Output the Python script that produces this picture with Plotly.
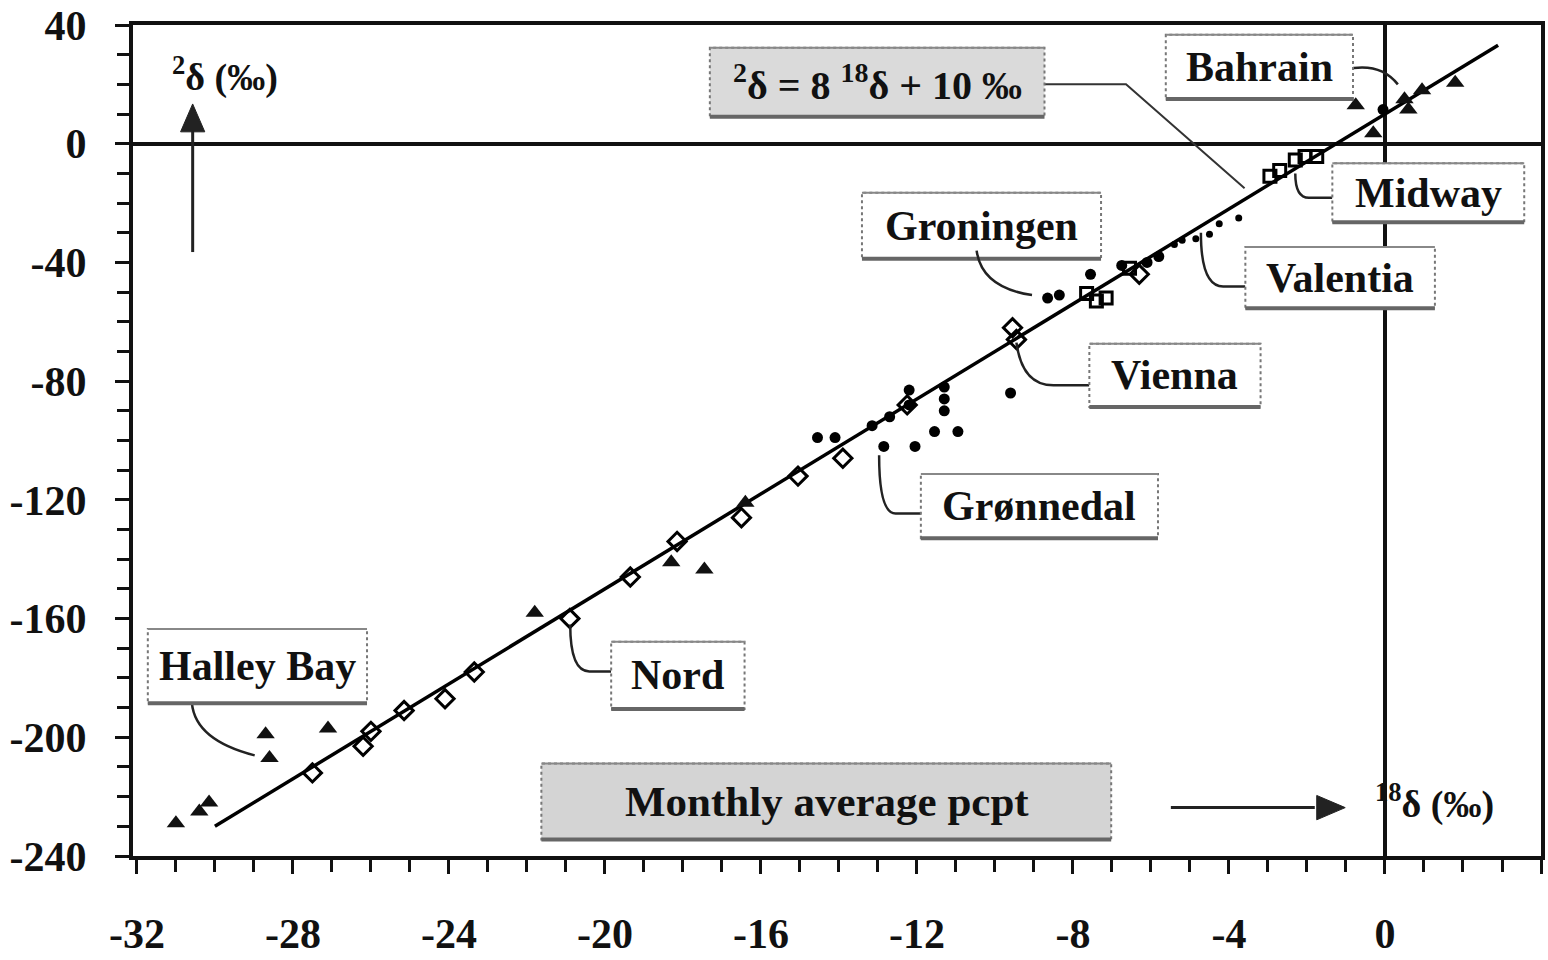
import plotly.graph_objects as go

# ---------------- data ----------------
# Global meteoric water line  2δ = 8 18δ + 10
gmwl_x = [-30.0, 2.9]
gmwl_y = [-230.0, 33.2]

# Halley Bay + other filled triangles
tri_x = [-31.0, -30.4, -30.15, -28.7, -28.6, -27.1, -21.8, -18.3, -17.45, -16.4]
tri_y = [-229, -225, -222, -199, -207, -197, -158, -141, -143.5, -121]

# Bahrain triangles
bahrain_x = [-0.75, -0.3, 0.6, 0.5, 0.95, 1.8]
bahrain_y = [13.0, 3.5, 11.5, 15.0, 18.0, 20.5]

# Nord / Vienna open diamonds
nord_x = [-27.5, -26.2, -26.0, -25.15, -24.1, -23.35, -20.9, -19.35, -18.15, -16.5, -15.05, -13.9]
nord_y = [-212, -203, -198, -191, -187, -178, -160, -146, -134, -126, -112, -106]
vienna_x = [-9.45, -9.55, -12.25, -6.3]
vienna_y = [-66, -62, -88, -44]

# Grønnedal filled dots
gron_x = [-14.55, -14.1, -13.15, -12.85, -12.7, -12.2, -12.2, -12.05, -11.55, -11.3, -11.3, -11.3, -10.95, -9.6]
gron_y = [-99, -99, -95, -102, -92, -83, -88, -102, -97, -82, -86, -90, -97, -84]

# Groningen filled dots and open squares
groningen_x = [-8.65, -8.35, -7.55, -6.75, -6.1, -5.8]
groningen_y = [-52, -51, -44, -41, -40, -38]
groningen_sq_x = [-7.65, -7.4, -7.15, -6.55]
groningen_sq_y = [-50.5, -53, -52, -42]

# Valentia small dots
valentia_x = [-5.4, -5.2, -4.85, -4.5, -4.25, -3.75]
valentia_y = [-34, -32.5, -32, -30.5, -27, -25]

# Midway open squares
midway_x = [-2.95, -2.7, -2.3, -2.05, -1.75]
midway_y = [-11, -9, -5.5, -4.3, -4.3]

# near-zero point
zero_x = [-0.05]
zero_y = [11.5]

x_tick_vals = [-32, -28, -24, -20, -16, -12, -8, -4, 0, 4]
x_tick_text = ["-32", "-28", "-24", "-20", "-16", "-12", "-8", "-4", "0", "4"]
y_tick_vals = [-240, -200, -160, -120, -80, -40, 0, 40]
y_tick_text = ["-240", "-200", "-160", "-120", "-80", "-40", "0", "40"]

# station labels: text, box x0, x1, y0, y1
label_names = ["Bahrain", "Midway", "Groningen", "Valentia", "Vienna", "Grønnedal", "Nord", "Halley Bay"]
label_boxes = [
    (-5.62, -0.82, 15.1, 36.7),
    (-1.35, 3.57, -26.5, -6.6),
    (-13.41, -7.28, -38.8, -16.5),
    (-3.58, 1.28, -55.4, -34.8),
    (-7.58, -3.19, -88.7, -67.4),
    (-11.90, -5.82, -132.9, -111.3),
    (-19.84, -16.42, -190.5, -167.8),
    (-31.72, -26.10, -188.5, -163.5),
]
# connector paths (data coordinates)
connectors = [
    "M -1.02 25 Q -0.13 27.7 0.33 20",
    "M -1.35 -18.2 L -1.95 -18.2 Q -2.3 -18.2 -2.3 -10",
    "M -3.58 -48.1 L -4.15 -48.1 Q -4.72 -48.1 -4.72 -30",
    "M -10.47 -36 Q -10.34 -48.5 -9.05 -51",
    "M -7.58 -81.4 L -8.5 -81.4 Q -9.3 -81.4 -9.45 -67",
    "M -11.90 -124.6 L -12.55 -124.6 Q -12.97 -124.6 -12.97 -105",
    "M -19.84 -177.8 L -20.4 -177.8 Q -20.89 -177.8 -20.89 -162",
    "M -30.59 -188.5 Q -30.5 -201 -28.98 -206.1",
]

FONT = "Liberation Serif, Times New Roman, DejaVu Serif, serif"

fig = go.Figure()

fig.add_trace(go.Scatter(x=gmwl_x, y=gmwl_y, mode="lines",
                         line=dict(color="black", width=3.5), showlegend=False))

mk_line = dict(color="black", width=3)
fig.add_trace(go.Scatter(x=nord_x + vienna_x, y=nord_y + vienna_y, mode="markers",
                         marker=dict(symbol="diamond-open", size=14, color="black", line=mk_line),
                         showlegend=False))
fig.add_trace(go.Scatter(x=tri_x + bahrain_x, y=tri_y + bahrain_y, mode="markers",
                         marker=dict(symbol="triangle-up", size=16, color="#111"),
                         showlegend=False))
fig.add_trace(go.Scatter(x=gron_x + groningen_x + zero_x, y=gron_y + groningen_y + zero_y, mode="markers",
                         marker=dict(symbol="circle", size=11, color="black"),
                         showlegend=False))
fig.add_trace(go.Scatter(x=groningen_sq_x + midway_x, y=groningen_sq_y + midway_y, mode="markers",
                         marker=dict(symbol="square-open", size=12, color="black", line=mk_line),
                         showlegend=False))
fig.add_trace(go.Scatter(x=valentia_x, y=valentia_y, mode="markers",
                         marker=dict(symbol="circle", size=7, color="black"),
                         showlegend=False))

shapes = []
annotations = []

def box(x0, x1, y0, y1, fill="white"):
    shapes.append(dict(type="rect", xref="x", yref="y", x0=x0, x1=x1, y0=y0, y1=y1,
                       fillcolor=fill, line=dict(color="#777", width=2, dash="dot"), layer="above"))
    shapes.append(dict(type="line", xref="x", yref="y", x0=x0, x1=x1, y0=y0, y1=y0,
                       line=dict(color="#666", width=4), layer="above"))
    shapes.append(dict(type="line", xref="x", yref="y", x0=x0, x1=x1, y0=y1, y1=y1,
                       line=dict(color="#888", width=2), layer="above"))

for name, (x0, x1, y0, y1), path in zip(label_names, label_boxes, connectors):
    shapes.append(dict(type="path", xref="x", yref="y", path=path,
                       line=dict(color="#222", width=2.5), layer="above"))
    box(x0, x1, y0, y1)
    annotations.append(dict(x=(x0 + x1) / 2, y=(y0 + y1) / 2, xref="x", yref="y", text=name,
                            showarrow=False, font=dict(family=FONT, size=42, color="#111", weight="bold")))

# equation box and its pointer
shapes.append(dict(type="path", xref="x", yref="y", path="M -8.73 20 L -6.64 20 L -3.6 -15",
                   line=dict(color="#333", width=2), layer="above"))
box(-17.31, -8.73, 9.07, 32.35, fill="#dadada")
annotations.append(dict(x=-13.02, y=20.7, xref="x", yref="y",
                        text="<sup>2</sup>δ = 8 <sup>18</sup>δ + 10 ‰", showarrow=False,
                        font=dict(family=FONT, size=40, color="#111", weight="bold")))

# Monthly average box
box(-21.63, -7.02, -234.4, -208.8, fill="#d4d4d4")
annotations.append(dict(x=-14.3, y=-221.6, xref="x", yref="y", text="Monthly average pcpt",
                        showarrow=False, font=dict(family=FONT, size=43, color="#111", weight="bold")))

# axis name labels
annotations.append(dict(x=-29.75, y=23.4, xref="x", yref="y", text="<sup>2</sup>δ (‰)",
                        showarrow=False, font=dict(family=FONT, size=38, color="#111", weight="bold")))
annotations.append(dict(x=1.28, y=-221.7, xref="x", yref="y", text="<sup>18</sup>δ (‰)",
                        showarrow=False, font=dict(family=FONT, size=38, color="#111", weight="bold")))

# arrows drawn as shapes (shaft + filled head)
shapes.append(dict(type="line", xref="x", yref="y", x0=-30.57, x1=-30.57, y0=-36.5, y1=5,
                   line=dict(color="#222", width=3), layer="above"))
shapes.append(dict(type="path", xref="x", yref="y", path="M -30.57 13.4 L -30.88 4 L -30.26 4 Z",
                   fillcolor="#222", line=dict(color="#222", width=1), layer="above"))
shapes.append(dict(type="line", xref="x", yref="y", x0=-5.49, x1=-1.8, y0=-223.7, y1=-223.7,
                   line=dict(color="#222", width=3), layer="above"))
shapes.append(dict(type="path", xref="x", yref="y", path="M -1.02 -223.7 L -1.75 -219.6 L -1.75 -227.8 Z",
                   fillcolor="#222", line=dict(color="#222", width=1), layer="above"))

tickfont = dict(family=FONT, size=42, color="#111", weight="bold")

fig.update_layout(
    width=1548, height=960,
    margin=dict(l=133, r=3, t=25, b=93),
    paper_bgcolor="white", plot_bgcolor="white",
    shapes=shapes, annotations=annotations,
    showlegend=False,
    xaxis=dict(range=[-32.1, 4.0], tickvals=x_tick_vals, ticktext=x_tick_text,
               showgrid=False, zeroline=True, zerolinecolor="#111", zerolinewidth=3.5,
               showline=True, linecolor="#111", linewidth=4, mirror=True,
               ticks="outside", ticklen=14, tickwidth=3, tickcolor="#111",
               minor=dict(dtick=1, ticks="outside", ticklen=12, tickwidth=2.5, tickcolor="#111"),
               tickfont=tickfont, ticklabelstandoff=24),
    yaxis=dict(range=[-240, 40], tickvals=y_tick_vals, ticktext=y_tick_text,
               showgrid=False, zeroline=True, zerolinecolor="#111", zerolinewidth=3.5,
               showline=True, linecolor="#111", linewidth=4, mirror=True,
               ticks="outside", ticklen=14, tickwidth=3, tickcolor="#111",
               minor=dict(dtick=10, ticks="outside", ticklen=12, tickwidth=2.5, tickcolor="#111"),
               tickfont=tickfont, ticklabelstandoff=20),
)

fig.write_html("out.html")
